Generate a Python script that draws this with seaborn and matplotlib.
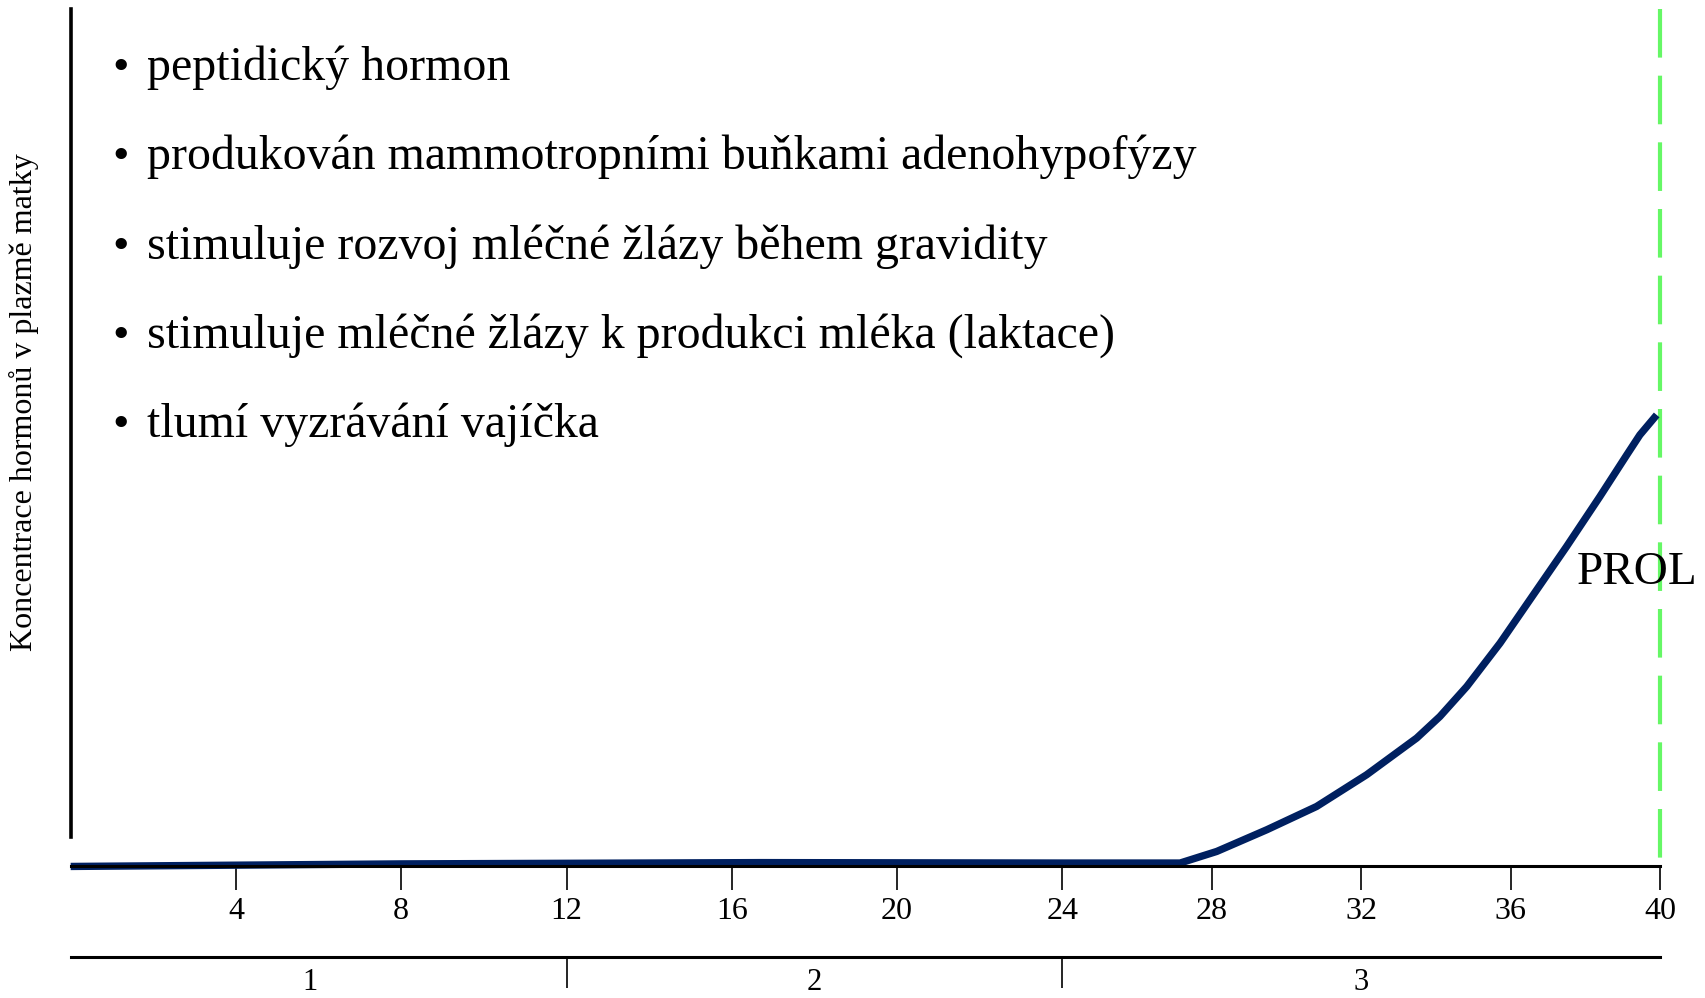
import numpy as np
import pandas as pd
import matplotlib.pyplot as plt
import seaborn as sns

# prolactin level over pregnancy (arbitrary units, 0-100 = axis height)
weeks = [0, 8.0, 16.7, 24.0, 27.15, 28.13, 29.47, 30.80, 32.14, 33.48, 34.10,
         34.82, 35.71, 36.60, 37.49, 38.38, 39.10, 39.45, 39.90]
level = [0.0, 0.3, 0.45, 0.4, 0.4, 1.75, 4.28, 6.99, 10.69, 14.97, 17.48,
         20.98, 26.04, 31.67, 37.30, 43.12, 47.98, 50.31, 52.64]

week_ticks = [4, 8, 12, 16, 20, 24, 28, 32, 36, 40]
trimester_bounds = [12, 24]
trimester_centers = [5.8, 18, 32]
trimester_labels = ["1", "2", "3"]
due_week = 40

bullets = [
    "peptidický hormon",
    "produkován mammotropními buňkami adenohypofýzy",
    "stimuluje rozvoj mléčné žlázy během gravidity",
    "stimuluje mléčné žlázy k produkci mléka (laktace)",
    "tlumí vyzrávání vajíčka",
]
ylabel = "Koncentrace hormonů v plazmě matky"
curve_label = "PROL"

NAVY = "#002060"
GREEN = "#66F766"
SERIF = ["Liberation Serif", "DejaVu Serif"]


# the drawing squeezes the third trimester a little: piecewise linear week axis
def fwd(w):
    w = np.asarray(w, dtype=float)
    return np.where(w <= 24, w * 38.0, 912 + (w - 24) * 34.375)


def inv(p):
    p = np.asarray(p, dtype=float)
    return np.where(p <= 912, p / 38.0, 24 + (p - 912) / 34.375)


sns.set_theme(style="white")
plt.rcParams["font.family"] = SERIF
plt.rcParams["text.color"] = "black"

df = pd.DataFrame({"week": weeks, "level": level})

fig = plt.figure(figsize=(17.05, 9.98), dpi=100)
left, right = 65 / 1568, 1527 / 1568
bottom, top = 1 - 797 / 918, 1 - 8 / 918
ax = fig.add_axes([left, bottom, right - left, top - bottom])
ax.set_xscale("function", functions=(fwd, inv))

sns.lineplot(data=df, x="week", y="level", ax=ax, color=NAVY, lw=5.3,
             solid_capstyle="butt", solid_joinstyle="round", clip_on=False)

lw_g = 3.0
ax.plot([due_week, due_week], [100, 0], color=GREEN, lw=lw_g,
        linestyle=(0, (35 / lw_g, 13 / lw_g)), clip_on=False, zorder=1)

ax.set_xlim(0, 40)
ax.set_ylim(0, 100)
ax.set_xlabel("")
ax.set_ylabel("")
ax.set_yticks([])
ax.set_xticks(week_ticks)
ax.set_xticklabels([str(w) for w in week_ticks], fontsize=23)
ax.tick_params(axis="x", direction="out", length=17, width=1.2, pad=5,
               colors="black", bottom=True)
for s in ["top", "right"]:
    ax.spines[s].set_visible(False)
ax.spines["bottom"].set_linewidth(2.2)
ax.spines["bottom"].set_color("black")
ax.spines["left"].set_linewidth(2.6)
ax.spines["left"].set_color("black")
ax.spines["left"].set_bounds(3.4, 100)

ax.text(1450 / 1568, 1 - 527 / 918, curve_label, transform=fig.transFigure,
        fontsize=34, va="center", ha="left")

# trimester axis below
ax2 = fig.add_axes([left, 1 - 880 / 918, right - left, 0.001])
ax2.set_xscale("function", functions=(fwd, inv))
ax2.set_xlim(0, 40)
ax2.set_yticks([])
ax2.patch.set_visible(False)
for s in ["top", "right", "left"]:
    ax2.spines[s].set_visible(False)
ax2.spines["bottom"].set_linewidth(2.2)
ax2.spines["bottom"].set_color("black")
ax2.set_xticks(trimester_bounds)
ax2.set_xticklabels(["", ""])
ax2.set_xticks(trimester_centers, minor=True)
ax2.set_xticklabels(trimester_labels, minor=True, fontsize=22)
ax2.tick_params(axis="x", which="major", direction="out", length=22, width=1.2,
                colors="black", bottom=True)
ax2.tick_params(axis="x", which="minor", length=0, pad=8, colors="black", bottom=True)

# bullet list
baselines = [74, 155, 238, 320, 402]
for txt, b in zip(bullets, baselines):
    fig.text(103 / 1568, 1 - b / 918, "•", fontsize=34, va="baseline", ha="left")
    fig.text(135 / 1568, 1 - b / 918, txt, fontsize=34.5, va="baseline", ha="left")

fig.text(22 / 1568, 1 - 370 / 918, ylabel, rotation=90, fontsize=23,
         va="center", ha="center")

fig.savefig("out.png", dpi=100)
